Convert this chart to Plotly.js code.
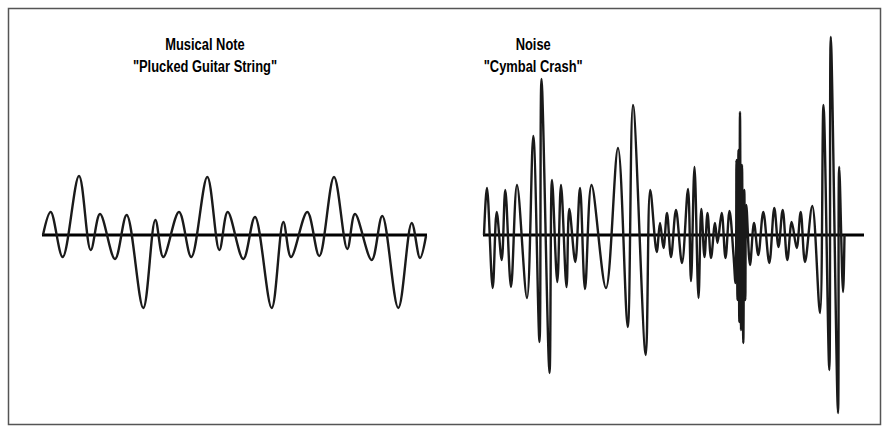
<!DOCTYPE html>
<html>
<head>
<meta charset="utf-8">
<script src="https://cdn.plot.ly/plotly-3.0.1.min.js"></script>
<style>html,body{margin:0;padding:0;background:#fff;}#chart{width:889px;height:432px;}</style>
</head>
<body>
<div id="chart"></div>
<script>
// Time positions (horizontal) and amplitudes (up = positive) of each extremum
const noteTime = [43, 50.7, 62.7, 79, 90.7, 100, 115, 126.7, 143.3, 155.3, 163.3, 179, 191.3, 207.3, 219.3, 227.7, 243.3, 255, 271.7, 283.3, 291, 307.3, 319.3, 334, 347.3, 355, 371.7, 382.3, 398.3, 411.7, 420, 426];
const noteAmp  = [0, 23, -22, 59, -15, 21, -24, 20, -73, 15, -22, 23, -22, 58, -15, 23, -24, 18, -73, 13, -22, 23, -21, 58, -14, 21, -25, 19, -73, 12, -23, -1];

const noiseTime = [484, 487, 492.7, 496.7, 501.7, 505.3, 511, 517, 527, 533.3, 539.5, 541.5, 549.5, 552, 557.3, 561, 566.5, 569.3, 575.3, 580, 585, 591.5, 606, 618, 627.7, 633, 645.7, 650.2, 656.7, 660, 663.5, 667, 671, 676, 682, 688, 691, 694.5, 698.5, 701.3, 704.5, 707.5, 711, 715, 717.5, 721.7, 725.5, 729.5, 733.5, 735.5, 736.5, 737.5, 738.5, 739.3, 740, 741, 742, 743.3, 744.3, 745.3, 746.3, 750, 754, 758.3, 763.3, 769.3, 774.3, 778.5, 782.7, 787.3, 791.7, 796.7, 800.7, 805, 812.3, 820, 823.5, 829.3, 830.8, 838, 839.2, 843, 844.5];
const noiseAmp  = [0, 47, -53, 23, -25, 45, -52, 50, -63, 99, -107, 156, -138, 55, -47, 50, -52, 26, -27, 47, -54, 50, -53, 87, -92, 130, -120, 45, -17, 12, -13, 22, -22, 25, -28, 46, -46, 68, -63, 26, -22, 22, -23, 12, -8, 22, -23, 24, -20, -48, 75, -65, 85, -87, 123, -95, 70, -108, 45, -65, 30, -30, 12, -20, 23, -28, 27, -12, 25, -25, 13, -13, 23, -27, 29, -78, 130, -135, 198, -178, 68, -57, 0];

const noteAxis  = [42, 427];
const noiseAxis = [483, 864];

const noteTitle  = 'Musical Note<br>"Plucked Guitar String"';
const noiseTitle = 'Noise<br>"Cymbal Crash"';
const noteTitleX = 205, noiseTitleX = 533;

const waveLine = {color: '#1a1a1a', width: 2.4, shape: 'spline', smoothing: 1};
const axisLine = {color: '#000', width: 3};

const traces = [
  {x: noteAxis, y: [0, 0], mode: 'lines', line: axisLine, hoverinfo: 'skip'},
  {x: noiseAxis, y: [0, 0], mode: 'lines', line: axisLine, hoverinfo: 'skip'},
  {x: noteTime, y: noteAmp, mode: 'lines', line: waveLine},
  {x: noiseTime, y: noiseAmp, mode: 'lines', line: waveLine}
];

const titleFont = {family: '"Liberation Sans", Arial, sans-serif', size: 17, color: '#000', weight: 'bold'};

const layout = {
  width: 889, height: 432,
  margin: {l: 0, r: 0, t: 0, b: 0},
  paper_bgcolor: '#fff', plot_bgcolor: '#fff',
  showlegend: false,
  xaxis: {range: [0, 889], visible: false, fixedrange: true},
  yaxis: {range: [-197, 235], visible: false, fixedrange: true},
  annotations: [
    {x: noteTitleX, y: 180, xref: 'x', yref: 'y', text: noteTitle, showarrow: false, font: titleFont, xanchor: 'center', yanchor: 'middle', align: 'center'},
    {x: noiseTitleX, y: 180, xref: 'x', yref: 'y', text: noiseTitle, showarrow: false, font: titleFont, xanchor: 'center', yanchor: 'middle', align: 'center'}
  ],
  shapes: [
    {type: 'rect', xref: 'paper', yref: 'paper', x0: 8.5/889, x1: 880.5/889, y0: 1 - 424.5/432, y1: 1 - 8.5/432, line: {color: '#555', width: 1.5}}
  ]
};

Plotly.newPlot('chart', traces, layout, {displayModeBar: false, staticPlot: true}).then(function () {
  // condense the title text horizontally (narrow bold face as in the reference)
  document.querySelectorAll('#chart .annotation-text').forEach(function (t) {
    const b = t.getBBox();
    const cx = b.x + b.width / 2;
    t.setAttribute('transform', 'translate(' + cx + ',0) scale(0.76,1) translate(' + (-cx) + ',0)');
  });
});
</script>
</body>
</html>
